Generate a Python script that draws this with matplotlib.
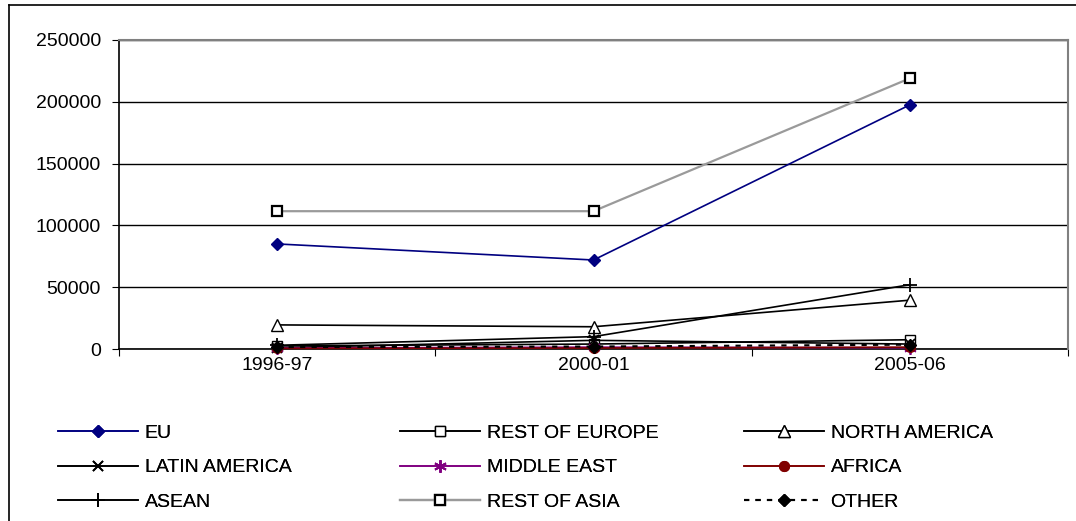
import matplotlib
matplotlib.use("Agg")
import matplotlib.pyplot as plt
from matplotlib.lines import Line2D

plt.rcParams['font.family'] = ['Liberation Sans', 'DejaVu Sans']

categories = ["1996-97", "2000-01", "2005-06"]
eu = [85000, 72000, 197500]
rest_of_europe = [2500, 4000, 7500]
north_america = [19500, 18000, 39500]
latin_america = [1000, 7000, 4000]
middle_east = [800, 1500, 1000]
africa = [500, 800, 1500]
asean = [3000, 10000, 52000]
rest_of_asia = [111500, 111500, 219000]
other = [1500, 2000, 3500]
yticks = [0, 50000, 100000, 150000, 200000, 250000]

W, H = 1076, 521
FS = 14
fig = plt.figure(figsize=(W / 100, H / 100), dpi=100)
ax = fig.add_axes([119 / W, 1 - 349 / H, (1068 - 119) / W, (349 - 40) / H])

x = list(range(len(categories)))
series = [
    ("EU", eu, dict(color='#000080', marker='D', ms=6.5, mfc='#000080', mec='#000080', lw=1.2)),
    ("REST OF EUROPE", rest_of_europe, dict(color='black', marker='s', ms=7, mfc='white', mec='black', lw=1.2)),
    ("NORTH AMERICA", north_america, dict(color='black', marker='^', ms=8, mfc='white', mec='black', lw=1.2)),
    ("LATIN AMERICA", latin_america, dict(color='black', marker='x', ms=7, mec='black', lw=1.2, mew=1.3)),
    ("MIDDLE EAST", middle_east, dict(color='#800080', marker=(6, 2, 0), ms=9, mec='#800080', lw=1.2, mew=1.3)),
    ("AFRICA", africa, dict(color='#800000', marker='o', ms=7, mfc='#800000', mec='#800000', lw=1.2)),
    ("ASEAN", asean, dict(color='black', marker='+', ms=10, mec='black', lw=1.2, mew=1.3)),
    ("REST OF ASIA", rest_of_asia, dict(color='#9a9a9a', marker='s', ms=7, mfc='white', mec='black', mew=1.6, lw=1.6)),
    ("OTHER", other, dict(color='black', marker='D', ms=6.5, mfc='black', mec='black', lw=1.5, ls=(0, (2.5, 3)))),
]
handles = []
for name, vals, st in series:
    l, = ax.plot(x, vals, label=name, zorder=3, clip_on=False, **st)
    handles.append(l)

ax.set_xlim(-0.5, 2.5)
ax.set_ylim(0, 250000)
ax.set_yticks(yticks)
ax.set_yticklabels([str(v) for v in yticks], fontsize=FS)
ax.yaxis.grid(True, color='black', lw=1)
ax.set_axisbelow(True)
ax.set_xticks([-0.5, 0.5, 1.5, 2.5])
ax.set_xticklabels([])
ax.set_xticks(x, minor=True)
ax.set_xticklabels(categories, minor=True, fontsize=FS)
ax.tick_params(axis='x', which='minor', length=0, pad=6)
ax.tick_params(axis='x', which='major', length=5, direction='out', color='black')
ax.tick_params(axis='y', length=5, direction='out', pad=8)
for s in ['top', 'right']:
    ax.spines[s].set_color('#808080')
    ax.spines[s].set_linewidth(1.5)
    ax.spines[s].set_zorder(4)
for s in ['left', 'bottom']:
    ax.spines[s].set_color('black')
    ax.spines[s].set_linewidth(1.2)

# legend: three columns, filled row by row
col_x = [58, 400, 744]
for c in range(3):
    hs = [handles[r * 3 + c] for r in range(3)]
    lg = fig.legend(handles=hs, loc='upper left',
                    bbox_to_anchor=(col_x[c] / W, 1 - 424 / H),
                    frameon=False, fontsize=FS, handlelength=4.1,
                    labelspacing=0.88, handletextpad=0.35, borderaxespad=0,
                    borderpad=0)
    fig.add_artist(lg)

# outer frame
fig.add_artist(Line2D([9 / W, 9 / W], [0, 1 - 5 / H], color='black', lw=1.2, transform=fig.transFigure))
fig.add_artist(Line2D([9 / W, 1], [1 - 5 / H, 1 - 5 / H], color='black', lw=1.2, transform=fig.transFigure))

fig.savefig('out.png', dpi=100)
